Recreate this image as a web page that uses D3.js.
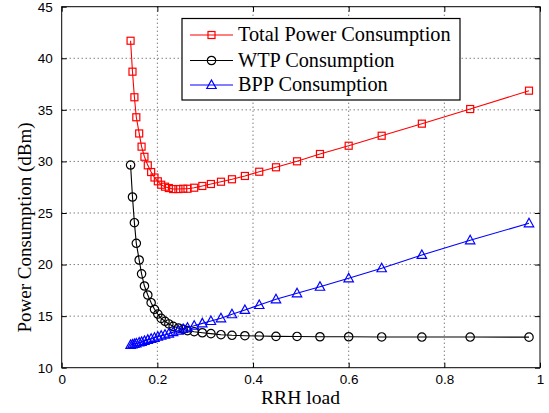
<!DOCTYPE html>
<html><head><meta charset="utf-8">
<script src="https://cdn.jsdelivr.net/npm/d3@7/dist/d3.min.js"></script>
<style>body{margin:0;background:#fff} .serif{font-family:"Liberation Serif","Times New Roman",Times,serif} .sans{font-family:"Liberation Sans",Arial,Helvetica,sans-serif}</style>
</head><body><svg id="c" width="549" height="413"></svg>
<script>
const load = [0.144,0.148,0.152,0.156,0.162,0.167,0.173,0.180,0.187,0.194,0.201,0.208,0.216,0.224,0.233,0.244,0.254,0.263,0.277,0.294,0.312,0.333,0.356,0.383,0.413,0.448,0.492,0.540,0.600,0.669,0.753,0.854,0.977];
const totalPower = [41.70,38.70,36.22,34.28,32.71,31.43,30.45,29.62,28.97,28.44,28.07,27.74,27.55,27.42,27.32,27.32,27.35,27.35,27.45,27.62,27.81,28.03,28.27,28.59,29.00,29.43,30.01,30.72,31.52,32.49,33.66,35.08,36.86];
const wtpPower = [29.65,26.55,24.06,22.06,20.44,19.10,17.92,17.05,16.30,15.66,15.20,14.78,14.50,14.24,14.01,13.85,13.72,13.59,13.49,13.39,13.30,13.20,13.14,13.10,13.07,13.04,13.03,13.00,13.00,12.98,12.97,12.97,12.96];
const bppPower = [12.20,12.25,12.30,12.35,12.45,12.50,12.60,12.70,12.80,12.90,13.00,13.10,13.20,13.30,13.45,13.60,13.75,13.88,14.07,14.30,14.53,14.79,15.18,15.60,16.08,16.63,17.21,17.85,18.67,19.64,20.93,22.35,24.00];
const xTicks = [0,0.2,0.4,0.6,0.8,1];
const xTickLabels = ["0","0.2","0.4","0.6","0.8","1"];
const yTicks = [10,15,20,25,30,35,40,45];
const seriesNames = ["Total Power Consumption","WTP Consumption","BPP Consumption"];
const seriesColors = ["#ff0000","#000000","#0000ff"];
const seriesMarkers = ["square","circle","triangle"];

const svg = d3.select("#c");
const L=61.7, R=540, T=6.7, B=367.7;
const x = d3.scaleLinear().domain([0,1]).range([L,R]);
const y = d3.scaleLinear().domain([10,45]).range([B,T]);

// grid
const g = svg.append("g");
g.selectAll(".gx").data(xTicks.slice(1,-1)).enter().append("line")
 .attr("x1",d=>x(d)).attr("x2",d=>x(d)).attr("y1",T).attr("y2",B)
 .attr("stroke","#444").attr("stroke-width",1).attr("stroke-dasharray","1,3");
g.selectAll(".gy").data(yTicks.slice(1,-1)).enter().append("line")
 .attr("y1",d=>y(d)).attr("y2",d=>y(d)).attr("x1",L).attr("x2",R)
 .attr("stroke","#444").attr("stroke-width",1).attr("stroke-dasharray","1,3");

// axes
const ax = d3.axisBottom(x).tickValues(xTicks).tickFormat((d,i)=>xTickLabels[i]).tickSizeInner(-5).tickSizeOuter(0).tickPadding(7);
const ay = d3.axisLeft(y).tickValues(yTicks).tickSizeInner(-5).tickSizeOuter(0).tickPadding(9);
const axT = d3.axisTop(x).tickValues(xTicks).tickFormat("").tickSizeInner(-5).tickSizeOuter(0);
const ayR = d3.axisRight(y).tickValues(yTicks).tickFormat("").tickSizeInner(-5).tickSizeOuter(0);
function styleAxis(sel){
  sel.attr("font-family",null).attr("font-size",null);
  sel.select(".domain").remove();
  sel.selectAll("line").attr("stroke","#000");
  sel.selectAll("text").attr("class","sans").style("font-size","13.5px").attr("fill","#000");
}
svg.append("g").attr("transform",`translate(0,${B})`).call(ax).call(styleAxis);
svg.append("g").attr("transform",`translate(${L},0)`).call(ay).call(styleAxis);
svg.append("g").attr("transform",`translate(0,${T})`).call(axT).call(styleAxis);
svg.append("g").attr("transform",`translate(${R},0)`).call(ayR).call(styleAxis);
svg.append("rect").attr("x",L).attr("y",T).attr("width",R-L).attr("height",B-T)
 .attr("fill","none").attr("stroke","#000").attr("stroke-width",1);

// series
const data = [totalPower, wtpPower, bppPower];
const line = d3.line().x(d=>x(d[0])).y(d=>y(d[1]));
function marker(sel, type, color){
  if(type==="square") sel.append("rect").attr("x",-3.5).attr("y",-3.5).attr("width",7).attr("height",7);
  else if(type==="circle") sel.append("circle").attr("r",4.2);
  else sel.append("path").attr("d","M0,-5L4.7,3.5L-4.7,3.5Z");
  sel.selectAll("*").attr("fill","none").attr("stroke",color).attr("stroke-width",1.2);
}
data.forEach((vals,si)=>{
  const pts = load.map((l,i)=>[l,vals[i]]);
  svg.append("path").datum(pts).attr("d",line).attr("fill","none").attr("stroke",seriesColors[si]).attr("stroke-width",1.1);
  const mg = svg.append("g");
  pts.forEach(p=>{
    const m = mg.append("g").attr("transform",`translate(${x(p[0])},${y(p[1])})`);
    marker(m, seriesMarkers[si], seriesColors[si]);
  });
});

// legend
const lg = svg.append("g");
lg.append("rect").attr("x",182).attr("y",18.5).attr("width",278).attr("height",81.5)
 .attr("fill","#fff").attr("stroke","#000").attr("stroke-width",1.2);
const rows=[35,60.5,85];
seriesNames.forEach((n,i)=>{
  lg.append("line").attr("x1",190).attr("x2",233).attr("y1",rows[i]).attr("y2",rows[i]).attr("stroke",seriesColors[i]).attr("stroke-width",1.1);
  const m = lg.append("g").attr("transform",`translate(211.5,${rows[i]})`);
  marker(m, seriesMarkers[i], seriesColors[i]);
  lg.append("text").attr("class","serif").attr("x",238).attr("y",rows[i]+6).text(n)
   .style("font-size","20.3px").attr("fill","#000");
});

// titles
svg.append("text").attr("class","serif").attr("x",300.5).attr("y",404.3).attr("text-anchor","middle").text("RRH load")
 .style("font-size","19.6px");
svg.append("text").attr("class","serif").attr("transform",`translate(30.5,227.5) rotate(-90)`).attr("text-anchor","middle").text("Power Consumption (dBm)")
 .style("font-size","19px");
</script></body></html>
